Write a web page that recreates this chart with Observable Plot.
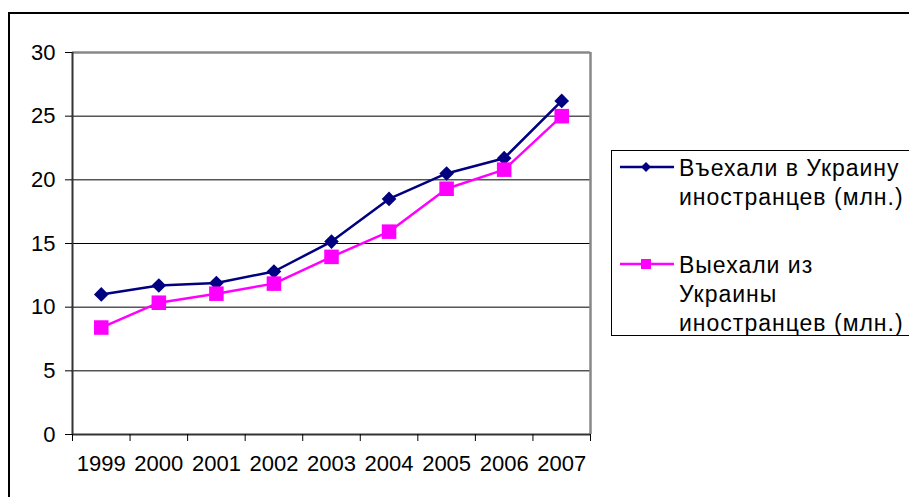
<!DOCTYPE html>
<html>
<head>
<meta charset="utf-8">
<script src="https://cdn.jsdelivr.net/npm/d3@7"></script>
<script src="https://cdn.jsdelivr.net/npm/@observablehq/plot@0.6"></script>
<style>
  html, body { margin: 0; padding: 0; background: #fff; overflow: hidden; }
  body { width: 909px; height: 497px; position: relative; font-family: "Liberation Sans", Arial, sans-serif; }
  #frame { position: absolute; left: 8px; top: 12px; width: 1200px; height: 800px;
           border-left: 2px solid #000; border-top: 2px solid #000; box-sizing: border-box; }
  #chart { position: absolute; left: 0; top: 0; }
  #legend { position: absolute; left: 611px; top: 150px; width: 400px; height: 186px;
            border: 1px solid #000; box-sizing: border-box; background: #fff; }
  .entry { position: absolute; left: 7px; }
  .entry svg { position: absolute; left: 0; }
  .entry .txt { position: absolute; left: 60px; top: 2px; font-size: 23px; line-height: 29px;
                letter-spacing: 1px; white-space: nowrap; color: #000; }
</style>
</head>
<body>
<div id="frame"></div>
<div id="chart"></div>
<div id="legend"></div>
<script>
// Foreign citizens entering and leaving Ukraine, millions per year
const years = [1999, 2000, 2001, 2002, 2003, 2004, 2005, 2006, 2007];
const entered = [11.0, 11.7, 11.9, 12.8, 15.15, 18.5, 20.5, 21.7, 26.2];
const departed = [8.4, 10.35, 11.06, 11.85, 13.95, 15.93, 19.3, 20.8, 25.0];
const yTicks = [0, 5, 10, 15, 20, 25, 30];

const seriesNames = ["Въехали в Украину иностранцев (млн.)", "Выехали из Украины иностранцев (млн.)"];
const legendLines = [
  ["Въехали в Украину", "иностранцев (млн.)"],
  ["Выехали из", "Украины", "иностранцев (млн.)"]
];
const seriesColors = ["#000080", "#FF00FF"];

const rowsEntered = years.map((year, i) => ({year, value: entered[i], series: seriesNames[0]}));
const rowsDeparted = years.map((year, i) => ({year, value: departed[i], series: seriesNames[1]}));

// category boundaries carry the tick marks, category centres carry the labels
const boundaries = years.map(y => y - 0.5).concat([years[years.length - 1] + 0.5]);
const xDomain = [boundaries[0], boundaries[boundaries.length - 1]];
const yMax = yTicks[yTicks.length - 1];

const chart = Plot.plot({
  width: 909,
  height: 497,
  marginLeft: 72,
  marginRight: 319,
  marginTop: 52,
  marginBottom: 63,
  style: {fontFamily: "'Liberation Sans', Arial, sans-serif", fontSize: "22px", background: "transparent", color: "#000"},
  x: {type: "linear", domain: xDomain, label: null},
  y: {domain: [0, yMax], label: null},
  marks: [
    Plot.ruleY(yTicks.filter(v => v > 0 && v < yMax), {stroke: "#000", strokeWidth: 1}),
    Plot.ruleY([yMax], {stroke: "#888", strokeWidth: 2.5}),
    Plot.ruleX([xDomain[1]], {stroke: "#888", strokeWidth: 2.5}),
    Plot.ruleX([xDomain[0]], {stroke: "#333", strokeWidth: 2}),
    Plot.ruleY([0], {stroke: "#333", strokeWidth: 2}),
    Plot.axisY({ticks: yTicks, tickSize: 7, tickPadding: 10, tickFormat: d => String(d), stroke: "#000", strokeOpacity: 1, label: null}),
    Plot.axisX({ticks: boundaries, tickSize: 7, tickFormat: () => "", stroke: "#000", strokeOpacity: 1, label: null}),
    Plot.axisX({ticks: years, tickSize: 0, tickPadding: 21, tickFormat: d => String(d), label: null}),
    Plot.line(rowsEntered, {x: "year", y: "value", stroke: seriesColors[0], strokeWidth: 2.5}),
    Plot.dot(rowsEntered, {x: "year", y: "value", symbol: "diamond2", r: 6.6, fill: seriesColors[0], stroke: "none"}),
    Plot.line(rowsDeparted, {x: "year", y: "value", stroke: seriesColors[1], strokeWidth: 2.5}),
    Plot.dot(rowsDeparted, {x: "year", y: "value", symbol: "square", r: 8.2, fill: seriesColors[1], stroke: "none"})
  ]
});
document.getElementById("chart").appendChild(chart);

// legend: swatch of line + marker, then the wrapped series name
const legend = document.getElementById("legend");
const entryTops = [1, 98];
const markerShapes = [
  c => `<path d="M27 10 L32 15 L27 20 L22 15 Z" fill="${c}"/>`,
  c => `<rect x="22" y="10" width="10" height="10" fill="${c}"/>`
];
legendLines.forEach((lines, i) => {
  const entry = document.createElement("div");
  entry.className = "entry";
  entry.style.top = entryTops[i] + "px";
  entry.innerHTML =
    `<svg width="56" height="30" style="top:0"><line x1="1" x2="55" y1="15" y2="15" stroke="${seriesColors[i]}" stroke-width="2.5"/>${markerShapes[i](seriesColors[i])}</svg>` +
    `<div class="txt">${lines.join("<br>")}</div>`;
  legend.appendChild(entry);
});
</script>
</body>
</html>
